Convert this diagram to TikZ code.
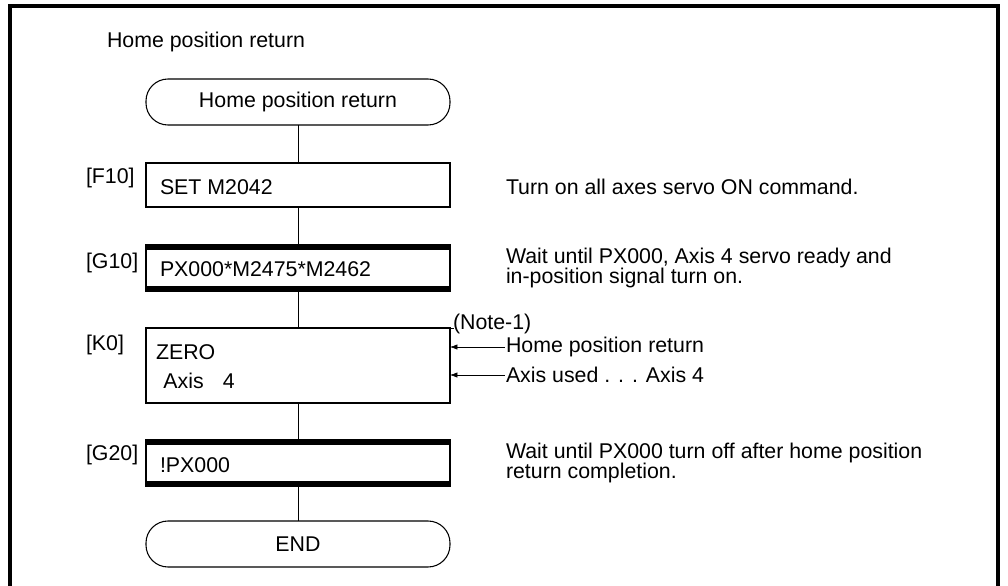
\documentclass[tikz,border=0pt]{standalone}
\usepackage{fontspec}
\setmainfont{Liberation Sans}
\usetikzlibrary{arrows.meta}
\begin{document}
\begin{tikzpicture}[x=0.75pt,y=-0.75pt,
  every node/.style={font=\fontsize{16}{15}\selectfont, inner sep=0pt, outer sep=0pt},
  term/.style={draw, line width=0.8pt, rounded corners=16.5pt, minimum width=228pt, minimum height=34.5pt},
  stepbox/.style={draw, line width=0.8pt, minimum width=228pt},
  txt/.style={anchor=west, align=left},
  conn/.style={line width=0.6pt},
  arr/.style={line width=0.5pt, -{Latex[length=5.5pt,width=4pt]}}
]
\useasboundingbox (0,0) rectangle (1008,586);
% frame
\draw[line width=2.3pt] (10,586) -- (10,6) -- (998,6) -- (998,586);

\node[txt] (title) at (107,42) {Home position return};

% flowchart boxes
\node[term] (start) at (298,102) {Home position return};
\node[stepbox, minimum height=33pt] (f10) at (298,185) {};
\node[stepbox, minimum height=34.5pt] (g10) at (298,268) {};
\node[stepbox, minimum height=56.25pt] (k0) at (298,365.5) {};
\node[stepbox, minimum height=34.5pt] (g20) at (298,463) {};
\node[term] (end) at (298,544) {END};

% thick bars of wait steps
\fill (g10.north west) rectangle ([yshift=-3.6pt]g10.north east);
\fill (g10.south west) rectangle ([yshift=3.6pt]g10.south east);
\fill (g20.north west) rectangle ([yshift=-3.6pt]g20.north east);
\fill (g20.south west) rectangle ([yshift=3.6pt]g20.south east);

% texts in boxes
\node[txt] (tf10) at (160,187) {SET M2042};
\node[txt] (tg10) at (160,269) {PX000*M2475*M2462};
\node[txt] (tk0) at (156,366.5) {ZERO\\[6.75pt]\hspace{0.35em}Axis\hspace{0.9em}4};
\node[txt] (tg20) at (160,465) {!PX000};

% step labels
\node[txt] (lf10) at (86,178) {[F10]};
\node[txt] (lg10) at (86,263) {[G10]};
\node[txt] (lk0) at (86,345) {[K0]};
\node[txt] (lg20) at (86,455) {[G20]};

% connectors
\draw[conn] (start.south) -- (f10.north);
\draw[conn] (f10.south) -- (g10.north);
\draw[conn] (g10.south) -- (k0.north);
\draw[conn] (k0.south) -- (g20.north);
\draw[conn] (g20.south) -- (end.north);

% descriptions
\node[txt] (df10) at (506,187) {Turn on all axes servo ON command.};
\node[txt] (dg10) at (506,268) {Wait until PX000, Axis 4 servo ready and\\in-position signal turn on.};
\node[txt] (note) at (453,324) {(Note-1)};
\draw[line width=0.6pt] (k0.north east) -- ++(4,0);
\node[txt] (dhpr) at (506,347) {Home position return};
\node[txt] (daxis) at (506,375) {Axis used . . . Axis 4};
\node[txt] (dg20) at (506,463) {Wait until PX000 turn off after home position\\return completion.};

\draw[arr] ([xshift=-1pt]dhpr.west) -- (dhpr.west -| k0.east);
\draw[arr] ([xshift=-1pt]daxis.west) -- (daxis.west -| k0.east);
\end{tikzpicture}
\end{document}
